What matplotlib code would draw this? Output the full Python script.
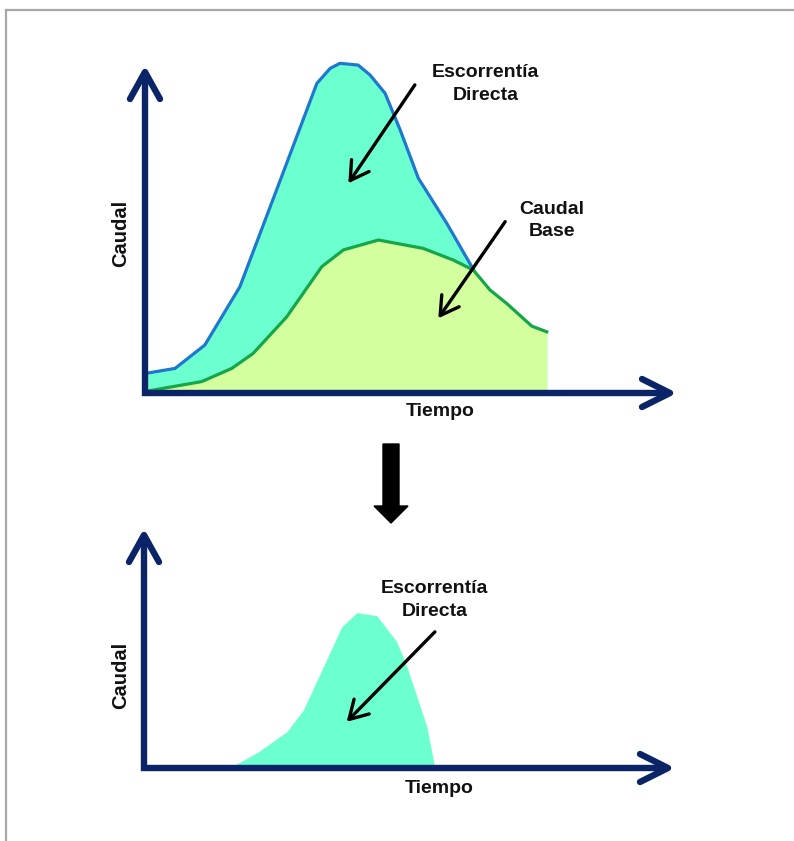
import numpy as np
import matplotlib
matplotlib.use("Agg")
import matplotlib.pyplot as plt
import matplotlib.patches as mpatches
from matplotlib.lines import Line2D

plt.rcParams["font.family"] = ["Liberation Sans", "DejaVu Sans"]

# hidrograma total (escorrentia directa + caudal base), hasta el cruce
total_t = [0.0, 0.86, 1.71, 2.71, 3.76, 4.91, 5.29, 5.57, 6.09, 6.43, 6.86, 7.29, 7.81, 8.62, 9.38]
total_q = [0.65, 0.82, 1.60, 3.54, 6.77, 10.32, 10.82, 10.99, 10.93, 10.60, 9.99, 8.77, 7.16, 5.66, 4.12]

# caudal base
base_t = [0.0, 1.62, 2.48, 3.09, 4.05, 5.05, 5.67, 6.67, 7.95, 8.81, 9.38, 9.86, 10.33, 11.05, 11.48]
base_q = [0.05, 0.38, 0.82, 1.32, 2.54, 4.21, 4.77, 5.10, 4.82, 4.43, 4.10, 3.43, 2.99, 2.23, 2.04]

# escorrentia directa (grafico inferior)
directa_t = [2.45, 3.27, 4.08, 4.55, 5.65, 6.08, 6.65, 7.22, 7.51, 8.08, 8.31]
directa_q = [0.0, 0.54, 1.21, 1.93, 4.71, 5.18, 5.08, 4.21, 3.38, 1.38, 0.0]

NAVY = "#0B2468"
CYAN = "#6CFFD0"
LIGHT_GREEN = "#D3FF9E"
BLUE = "#1F78CF"
GREEN = "#16A64A"

W, H = 794, 841
fig = plt.figure(figsize=(W / 100, H / 100), dpi=100)


def make_axes(x0, y0, x1, y1, xmax, ymax):
    # x0,y0 = origen en pixeles; x1 = punta eje x; y1 = punta eje y
    ax = fig.add_axes([x0 / W, 1 - y0 / H, (x1 - x0) / W, (y0 - y1) / H])
    ax.set_xlim(0, xmax)
    ax.set_ylim(0, ymax)
    ax.axis("off")
    px = 1 / (x1 - x0)
    py = 1 / (y0 - y1)
    tr = ax.transAxes
    ax.plot([0, 0, 1], [1, 0, 0], color=NAVY, lw=4.6, transform=tr,
            clip_on=False, solid_joinstyle="miter", solid_capstyle="butt", zorder=5)
    # puntas de flecha abiertas
    ax.plot([-15 * px, 0, 15 * px], [1 - 27 * py, 1, 1 - 27 * py], color=NAVY, lw=4.6,
            transform=tr, clip_on=False, solid_joinstyle="round",
            solid_capstyle="round", zorder=5)
    ax.plot([1 - 28 * px, 1, 1 - 28 * px], [14 * py, 0, -14 * py], color=NAVY, lw=4.6,
            transform=tr, clip_on=False, solid_joinstyle="round",
            solid_capstyle="round", zorder=5)
    return ax


def pointer(ax, start, end):
    ax.annotate("", xy=end, xytext=start,
                arrowprops=dict(arrowstyle="->,head_length=0.65,head_width=0.38",
                                mutation_scale=20, lw=2.4, color="black",
                                shrinkA=0, shrinkB=0),
                annotation_clip=False, zorder=6)


label_kw = dict(fontsize=14, fontweight="bold", ha="center", va="center",
                color="#111111", linespacing=1.45)

# ---- grafico superior ----
ax1 = make_axes(145, 393, 670, 72, 15.0, 10.7)
cross = total_t[-1]
tail = [i for i, t in enumerate(base_t) if t > cross]
full_t = total_t + [base_t[i] for i in tail]
full_q = total_q + [base_q[i] for i in tail]
ax1.fill_between(full_t, full_q, 0, color=CYAN, lw=0, zorder=1, clip_on=False)
ax1.fill_between(base_t, base_q, 0, color=LIGHT_GREEN, lw=0, zorder=2, clip_on=False)
ax1.plot(total_t, total_q, color=BLUE, lw=2.3, zorder=3, solid_joinstyle="round",
         clip_on=False)
ax1.plot(base_t, base_q, color=GREEN, lw=2.3, zorder=4, solid_joinstyle="round",
         clip_on=False)

ax1.text(9.74, 10.3, "Escorrentía\nDirecta", **label_kw)
pointer(ax1, (7.71, 10.27), (5.81, 6.99))
ax1.text(11.63, 5.75, "Caudal\nBase", **label_kw)
pointer(ax1, (10.29, 5.71), (8.38, 2.49))
ax1.text(8.43, -0.63, "Tiempo", **label_kw)
ax1.text(-0.69, 5.33, "Caudal", rotation=90, **{**label_kw, "fontsize": 14.5})

# ---- grafico inferior ----
ax2 = make_axes(144, 768, 668, 535, 14.97, 7.77)
ax2.fill_between(directa_t, directa_q, 0, color=CYAN, lw=0, zorder=1, clip_on=False)
ax2.text(8.31, 5.6, "Escorrentía\nDirecta", **label_kw)
pointer(ax2, (8.31, 4.54), (5.79, 1.54))
ax2.text(8.43, -0.67, "Tiempo", **label_kw)
ax2.text(-0.66, 3.1, "Caudal", rotation=90, **{**label_kw, "fontsize": 14.5})

# flecha de bloque entre graficos
big = mpatches.FancyArrow(391 / 100, (H - 444) / 100, 0, -(523 - 444) / 100,
                          width=0.16, head_width=0.34, head_length=0.17,
                          length_includes_head=True, color="black",
                          transform=fig.dpi_scale_trans)
fig.add_artist(big)

# marco gris
fig.add_artist(Line2D([6 / W, 1], [1 - 10 / H, 1 - 10 / H], color="#A8A8A8", lw=1.6))
fig.add_artist(Line2D([6 / W, 6 / W], [0, 1 - 10 / H], color="#A8A8A8", lw=1.6))

fig.savefig("out.png", dpi=100)
